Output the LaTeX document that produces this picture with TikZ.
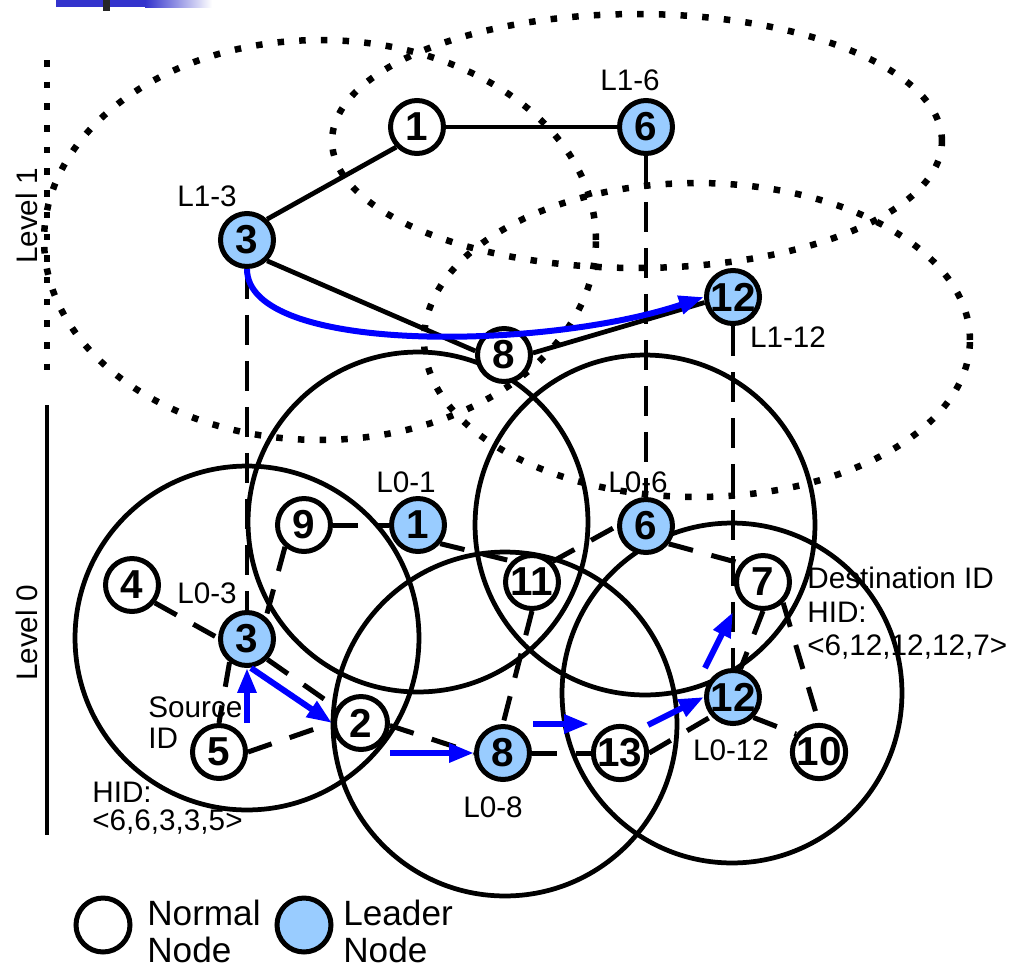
\documentclass[tikz,border=0pt]{standalone}
\usepackage{fontspec}
\setmainfont{Liberation Sans}
\usetikzlibrary{arrows.meta}
\definecolor{leaderfill}{RGB}{153,204,255}
\definecolor{hdrblue}{RGB}{51,51,204}
\definecolor{pathblue}{RGB}{0,0,255}
\begin{document}
\begin{tikzpicture}[x=0.02cm,y=-0.02cm,
  nodebase/.style={circle, draw=black, line width=0.1cm, minimum size=1.06cm, inner sep=0pt,
    font=\fontsize{23}{26}\selectfont\bfseries},
  normalnode/.style={nodebase, fill=white},
  leadernode/.style={nodebase, fill=leaderfill},
  lbl/.style={font=\fontsize{16.9}{20}\selectfont, inner sep=0pt},
  legendtxt/.style={font=\fontsize{20}{24}\selectfont, inner sep=0pt, anchor=base west},
  rangecircle/.style={draw=black, line width=0.095cm},
  dotline/.style={draw=black, line width=0.13cm, dash pattern=on 0.13cm off 0.304cm},
  solidedge/.style={draw=black, line width=0.095cm},
  dashedge/.style={draw=black, line width=0.1cm, dash pattern=on 0.5cm off 0.38cm},
  vdash/.style={draw=black, line width=0.095cm, dash pattern=on 0.6cm off 0.32cm},
  route/.style={draw=pathblue, line width=0.12cm, -{Triangle[length=0.5cm,width=0.36cm]}},
]
\useasboundingbox (0,0) rectangle (1011,967);

% header remnant
\fill[hdrblue] (56,0) rectangle (145,7);
\shade[left color=hdrblue, right color=white] (145,0) rectangle (212,7);
\fill[black!85] (103,0) rectangle (110,11);

% level 1 dotted ranges
\draw[dotline] (320,240) ellipse [x radius=5.52cm, y radius=4cm];
\draw[dotline] (637,141) ellipse [x radius=6.1cm, y radius=2.54cm];
\draw[dotline] (697,340) ellipse [x radius=5.46cm, y radius=3.14cm];

% level 0 ranges
\draw[rangecircle] (247,638) circle [radius=3.44cm];
\draw[rangecircle] (418,522) circle [radius=3.4cm];
\draw[rangecircle] (645,525) circle [radius=3.4cm];
\draw[rangecircle] (505,724) circle [radius=3.44cm];
\draw[rangecircle] (732,693) circle [radius=3.4cm];

% level markers
\coordinate (l1top) at (47,60);
\coordinate (l1bot) at (47,380);
\coordinate (l0top) at (47,405);
\coordinate (l0bot) at (47,835);
\draw[dotline] (l1top) -- (l1bot);
\draw[solidedge] (l0top) -- (l0bot);
\node[lbl, rotate=90] (lev1) at (27,216) {Level 1};
\node[lbl, rotate=90] (lev0) at (27,633) {Level 0};

% level 1 nodes
\node[normalnode] (a1) at (417,127) {1};
\node[leadernode] (a6) at (646,127) {6};
\node[leadernode] (a3) at (247,240) {3};
\node[leadernode] (a12) at (733,297) {12};
\node[normalnode] (a8) at (504,355) {8};

% level 0 nodes
\node[normalnode] (b9) at (304,525) {9};
\node[leadernode] (b1) at (418,525) {1};
\node[normalnode] (b4) at (132,585) {4};
\node[leadernode] (b3) at (247,639) {3};
\node[normalnode] (b11) at (532,582) {11};
\node[leadernode] (b6) at (646,526) {6};
\node[normalnode] (b7) at (763,582) {7};
\node[normalnode] (b2) at (361,723) {2};
\node[normalnode] (b5) at (219,752) {5};
\node[leadernode] (b8) at (503,753) {8};
\node[normalnode] (b13) at (620,753) {13};
\node[leadernode] (b12) at (733,697) {12};
\node[normalnode] (b10) at (819,752) {10};

% level 1 links
\draw[solidedge] (a1.east) -- (a6.west);
\draw[solidedge] (a1.224) -- (a3.46);
\draw[solidedge] (a3.314) -- (a8.172);
\draw[solidedge] (a8.4) -- (a12.191);

% inter-level links
\draw[vdash] (a3.south) -- (b3.north);
\draw[vdash] (a6.south) -- (b6.north);
\draw[vdash] (a12.south) -- (b12.north);

% level 0 links
\draw[dashedge] (b9.east) -- (b1.west);
\draw[dashedge] (b1.320) -- (b11.134);
\draw[dashedge] (b11.45) -- (b6.180);
\draw[dashedge] (b9.229) -- (b3.49);
\draw[dashedge] (b4.322) -- (b3.178);
\draw[dashedge] (b3.315) -- (b2.148);
\draw[dashedge] (b3.233) -- (b5.north);
\draw[dashedge] (b5.east) -- (b2.west);
\draw[dashedge] (b2.355) -- (b8.west);
\draw[dashedge] (b11.south) -- (b8.north);
\draw[dashedge] (b8.east) -- (b13.west);
\draw[dashedge] (b13.east) -- (b12.222);
\draw[dashedge] (b6.322) -- (b7.140);
\draw[dashedge] (b7.270) -- (b12.75);
\draw[dashedge] (b7.314) -- (b10.north);
\draw[dashedge] (b12.315) -- (b10.142);

% routes
\draw[route] (a3.south) .. controls (247,355) and (546,350) .. (a12.west);
\coordinate (r53) at (247,723);
\draw[route] (r53) -- (b3.south);
\coordinate (r32) at (251,668);
\draw[route] (r32) -- (b2.west);
\coordinate (r28) at (390,753);
\draw[route] (r28) -- (b8.west);
\coordinate (r813a) at (533,724);
\coordinate (r813b) at (589,724);
\draw[route] (r813a) -- (r813b);
\coordinate (r1312) at (648,725);
\draw[route] (r1312) -- (b12.west);
\coordinate (r127a) at (705,668);
\coordinate (r127b) at (733,612);
\draw[route] (r127a) -- (r127b);

% labels
\node[lbl, anchor=base] (t16) at (630,90) {L1-6};
\node[lbl, anchor=base] (t13) at (207,206) {L1-3};
\node[lbl, anchor=base] (t112) at (788,347) {L1-12};
\node[lbl, anchor=base] (t01) at (406,492) {L0-1};
\node[lbl, anchor=base] (t06) at (638,492) {L0-6};
\node[lbl, anchor=base] (t03) at (207,603) {L0-3};
\node[lbl, anchor=base] (t08) at (493,817) {L0-8};
\node[lbl, anchor=base] (t012) at (731,760) {L0-12};
\node[lbl, anchor=base west] (src1) at (148,717) {Source};
\node[lbl, anchor=base west] (src2) at (148,748) {ID};
\node[lbl, anchor=base west] (shid1) at (92,802) {HID:};
\node[lbl, anchor=base west] (shid2) at (92,830) {<6,6,3,3,5>};
\node[lbl, anchor=base west] (dst1) at (807,588) {Destination ID};
\node[lbl, anchor=base west] (dst2) at (807,622) {HID:};
\node[lbl, anchor=base west] (dst3) at (807,655) {<6,12,12,12,7>};

% legend
\node[normalnode, line width=0.1cm, minimum size=1.08cm] (legn) at (103,925) {};
\node[leadernode, line width=0.1cm, minimum size=1.08cm] (legl) at (304,925) {};
\node[legendtxt] (legn1) at (147,925) {Normal};
\node[legendtxt] (legn2) at (147,962) {Node};
\node[legendtxt] (legl1) at (343,925) {Leader};
\node[legendtxt] (legl2) at (343,962) {Node};
\end{tikzpicture}
\end{document}
